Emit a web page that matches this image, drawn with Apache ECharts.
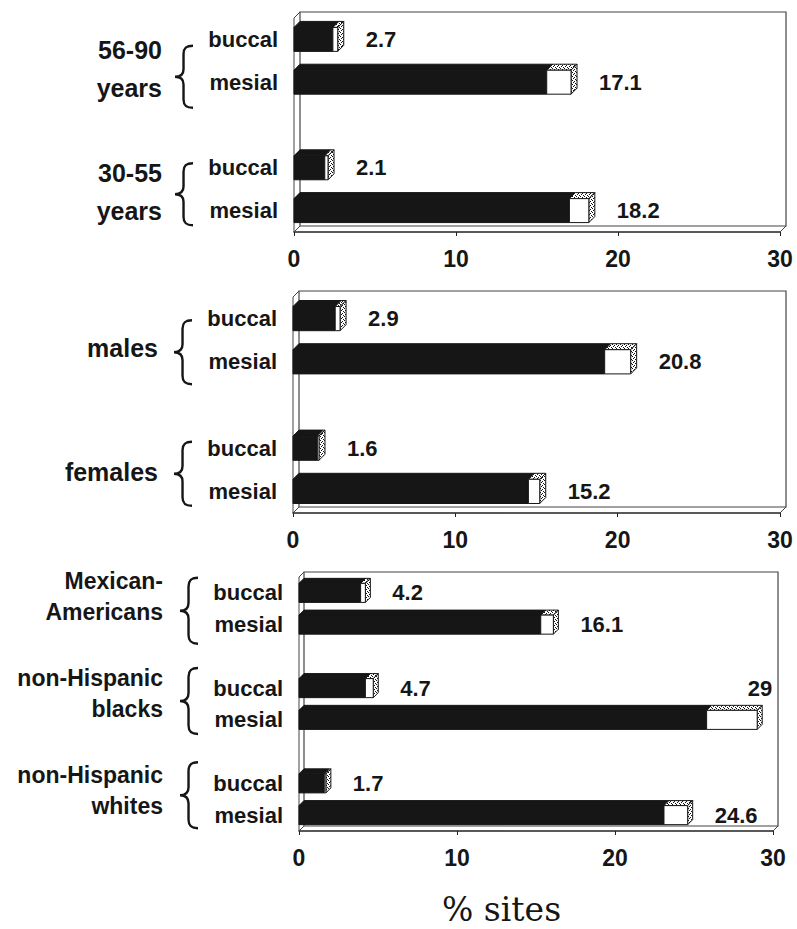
<!DOCTYPE html>
<html>
<head>
<meta charset="utf-8">
<script src="https://cdn.jsdelivr.net/npm/echarts@6/dist/echarts.min.js"></script>
<style>
  html, body { margin: 0; padding: 0; background: #fff; }
  #chart { width: 797px; height: 929px; }
</style>
</head>
<body>
<div id="chart"></div>
<script>
// Shared x-axis ticks and site names
const xTicks = [0, 10, 20, 30];
const sites = ['buccal', 'mesial'];

// Age groups: total % of sites, and the solid (dark) part of each bar
const ageGroups = ['56-90\nyears', '30-55\nyears'];
const ageTotal = [2.7, 17.1, 2.1, 18.2];
const ageSolid = [2.4, 15.6, 1.9, 17.0];

// Sex
const sexGroups = ['males', 'females'];
const sexTotal = [2.9, 20.8, 1.6, 15.2];
const sexSolid = [2.6, 19.2, 1.5, 14.5];

// Ethnicity
const ethGroups = ['Mexican-\nAmericans', 'non-Hispanic\nblacks', 'non-Hispanic\nwhites'];
const ethTotal = [4.2, 16.1, 4.7, 29, 1.7, 24.6];
const ethSolid = [3.9, 15.3, 4.2, 25.8, 1.6, 23.1];

const FONT = '"Liberation Sans", Arial, sans-serif';
const INK = '#161616';

// Panel layout (front plane of each 3-D box)
const panels = [
  { groups: ageGroups, total: ageTotal, solid: ageSolid,
    left: 294, right: 17, top: 18, height: 214, depth: 6, barRatio: 0.56,
    groupFont: 25, lineH: 38, textShift: 132, textDy: [8, 3], braceDy: [16, 5], braceH: 62 },
  { groups: sexGroups, total: sexTotal, solid: sexSolid,
    left: 293, right: 17, top: 297, height: 216, depth: 6, barRatio: 0.56,
    groupFont: 25, lineH: 38, textShift: 135, textDy: [8, 2], braceDy: [12, 4], braceH: 64 },
  { groups: ethGroups, total: ethTotal, solid: ethSolid,
    left: 299, right: 24, top: 577, height: 254, depth: 5, barRatio: 0.6,
    groupFont: 23, lineH: 31, textShift: 136, textDy: [-12, -11, -9], braceDy: [2, -3, -4], braceH: 66 }
];

// Stipple used on the top and end faces of the bars
const stippleCanvas = document.createElement('canvas');
stippleCanvas.width = 4; stippleCanvas.height = 4;
(function () {
  const c = stippleCanvas.getContext('2d');
  c.fillStyle = '#ffffff'; c.fillRect(0, 0, 4, 4);
  c.fillStyle = '#111111';
  [[0, 0], [2, 1], [1, 2], [3, 3]].forEach(p => c.fillRect(p[0], p[1], 1, 1));
})();
const stipple = { image: stippleCanvas, repeat: 'repeat', imageWidth: 4, imageHeight: 4 };

function slotCount(cfg) { return cfg.groups.length * 3 - 1; }

function barRenderer(cfg) {
  return function (params, api) {
    const total = api.value(0), slot = api.value(1), solid = api.value(2);
    const base = api.coord([0, slot]);
    const x0 = base[0];
    const x1 = api.coord([solid, slot])[0];
    const x2 = api.coord([total, slot])[0];
    const h = api.size([0, 1])[1] * cfg.barRatio;
    const d = cfg.depth;
    const y0 = base[1] - h / 2, y1 = y0 + h;
    const poly = (pts, fill) => ({
      type: 'polygon', shape: { points: pts },
      style: { fill: fill, stroke: INK, lineWidth: 1 }
    });
    const children = [
      poly([[x0, y0], [x0 + d, y0 - d], [x1 + d, y0 - d], [x1, y0]], INK),
      poly([[x1, y0], [x1 + d, y0 - d], [x2 + d, y0 - d], [x2, y0]], stipple),
      poly([[x2, y0], [x2 + d, y0 - d], [x2 + d, y1 - d], [x2, y1]], stipple),
      { type: 'rect', shape: { x: x0, y: y0, width: x1 - x0, height: h },
        style: { fill: INK, stroke: INK, lineWidth: 1 } },
      { type: 'rect', shape: { x: x1, y: y0, width: x2 - x1, height: h },
        style: { fill: '#ffffff', stroke: INK, lineWidth: 1 } }
    ];
    const wide = total > 27;
    children.push({
      type: 'text',
      x: wide ? x2 + d + 10 : x2 + d + 22,
      y: wide ? y0 - d - 6 : base[1],
      style: {
        text: String(total),
        font: 'bold 22px ' + FONT,
        fill: INK,
        align: wide ? 'right' : 'left',
        verticalAlign: wide ? 'bottom' : 'middle'
      }
    });
    return { type: 'group', children: children };
  };
}

function frameRenderer(cfg) {
  return function (params) {
    const cs = params.coordSys;
    const x = cs.x, y = cs.y, w = cs.width, h = cs.height, d = cfg.depth;
    const ln = (a, b, c, e) => ({
      type: 'line', shape: { x1: a, y1: b, x2: c, y2: e },
      style: { stroke: '#444', lineWidth: 1 }
    });
    return {
      type: 'group',
      children: [
        { type: 'rect', shape: { x: x + d, y: y - d, width: w, height: h },
          style: { fill: 'none', stroke: '#444', lineWidth: 1.2 } },
        ln(x, y, x, y + h),
        ln(x, y, x + d, y - d),
        ln(x, y + h, x + d, y + h - d),
        ln(x + w, y + h, x + w + d, y + h - d)
      ]
    };
  };
}

function groupRenderer(cfg) {
  return function (params, api) {
    const g = params.dataIndex;
    const a = api.coord([0, g * 3]);
    const b = api.coord([0, g * 3 + 1]);
    const cy = (a[1] + b[1]) / 2;
    const left = params.coordSys.x;
    const bh = cfg.braceH;
    const by = cy + cfg.braceDy[g] - bh / 2;
    return {
      type: 'group',
      children: [
        { type: 'text', x: left - cfg.textShift, y: cy + cfg.textDy[g],
          style: { text: cfg.groups[g], font: 'bold ' + cfg.groupFont + 'px ' + FONT,
                   fill: INK, align: 'right', verticalAlign: 'middle', lineHeight: cfg.lineH } },
        { type: 'path',
          shape: { pathData: 'M20,1 C12,1 10,6 10,14 L10,38 C10,46 7,50 1,50 C7,50 10,54 10,62 L10,86 C10,94 12,99 20,99',
                   x: left - 119, y: by, width: 18, height: bh, layout: 'cover' },
          style: { fill: 'none', stroke: INK, lineWidth: 2.4 } }
      ]
    };
  };
}

const grid = [], xAxis = [], yAxis = [], series = [];
panels.forEach((cfg, i) => {
  grid.push({ left: cfg.left, right: cfg.right, top: cfg.top, height: cfg.height });
  xAxis.push({
    gridIndex: i, type: 'value', min: xTicks[0], max: xTicks[xTicks.length - 1],
    interval: xTicks[1] - xTicks[0],
    axisLine: { show: true, lineStyle: { color: '#222', width: 1.5 } },
    axisTick: { show: true, length: 4, lineStyle: { color: '#222' } },
    splitLine: { show: false },
    axisLabel: { fontFamily: FONT, fontWeight: 'bold', fontSize: 23, color: INK, margin: 15 }
  });
  const slots = [];
  for (let s = 0; s < slotCount(cfg); s++) slots.push(String(s));
  yAxis.push({
    gridIndex: i, type: 'category', data: slots, inverse: true,
    axisLine: { show: false }, axisTick: { show: false },
    axisLabel: {
      fontFamily: FONT, fontWeight: 'bold', fontSize: 22, color: INK, margin: 16,
      formatter: v => sites[Number(v) % 3] || ''
    }
  });
  series.push({
    type: 'custom', xAxisIndex: i, yAxisIndex: i, z: 1, silent: true,
    renderItem: frameRenderer(cfg), data: [[0, 0]], encode: { x: 0, y: 1 }, clip: false
  });
  series.push({
    type: 'custom', xAxisIndex: i, yAxisIndex: i, z: 3, clip: false,
    renderItem: barRenderer(cfg),
    encode: { x: [0, 2], y: 1 },
    data: cfg.total.map((t, k) => [t, Math.floor(k / 2) * 3 + (k % 2), cfg.solid[k]])
  });
  series.push({
    type: 'custom', xAxisIndex: i, yAxisIndex: i, z: 3, clip: false, silent: true,
    renderItem: groupRenderer(cfg),
    encode: { x: 0, y: 1 },
    data: cfg.groups.map((_, g) => [0, g * 3])
  });
});

const chart = echarts.init(document.getElementById('chart'), null, { renderer: 'svg' });
chart.setOption({
  animation: false,
  backgroundColor: '#ffffff',
  grid: grid, xAxis: xAxis, yAxis: yAxis, series: series,
  graphic: [{
    type: 'text', left: 442, top: 892,
    style: { text: '% sites', font: '33px "DejaVu Serif", serif', lineHeight: 34, fill: INK }
  }]
});
</script>
</body>
</html>
